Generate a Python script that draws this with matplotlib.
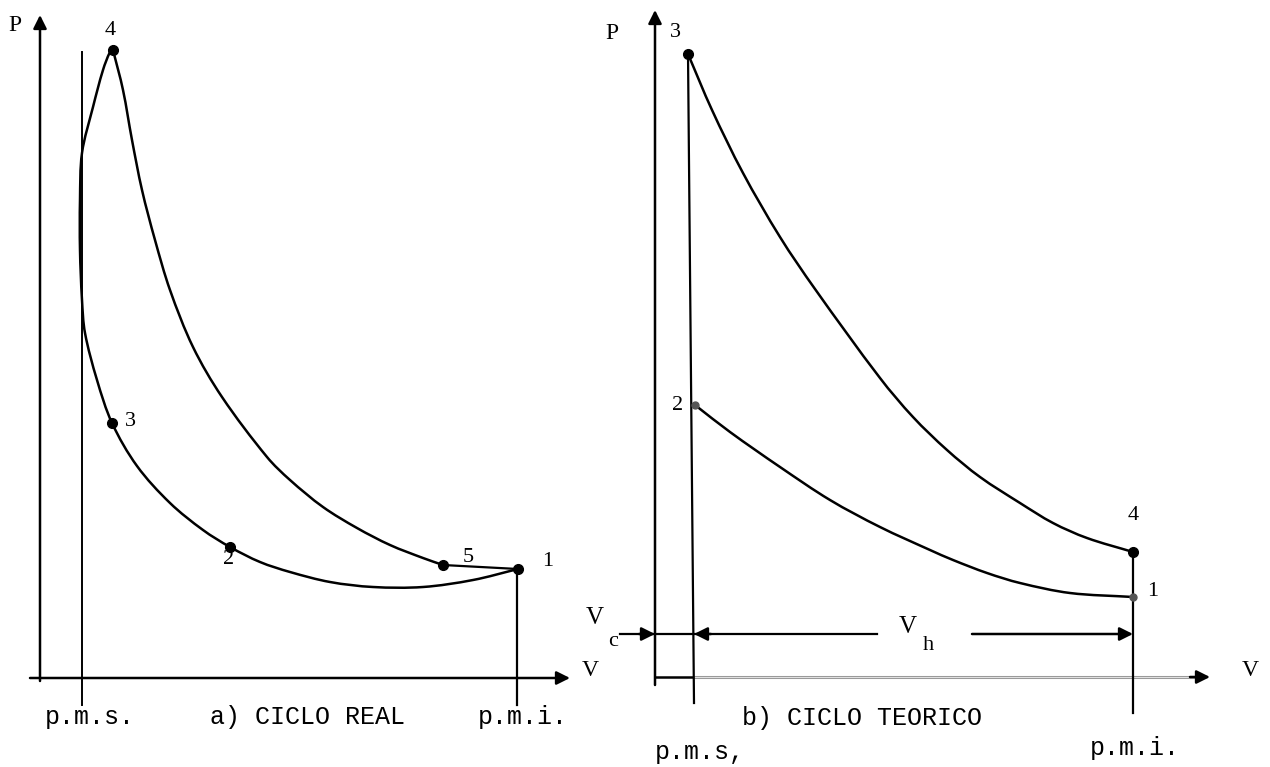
import matplotlib.pyplot as plt
from matplotlib.path import Path
from matplotlib.patches import PathPatch

# ---- a) ciclo real (V, p in arbitrary units)
# compression 1 -> 2 -> 3 -> p.m.s. -> combustion up to 4
v_real_comp = [47.8, 43.3, 38.3, 33.3, 29.0, 25.0, 22.0, 19.0, 16.3, 13.0, 9.7, 7.2,
               5.7, 4.5, 4.2, 4.0, 4.0, 4.2, 5.3, 6.3, 7.0, 7.3]
p_real_comp = [10.9, 9.8, 9.1, 9.1, 9.6, 10.6, 11.6, 13.1, 14.8, 17.5, 21.2, 25.5,
               29.8, 34.5, 37.8, 42.8, 47.8, 52.5, 57.1, 60.8, 62.6, 62.8]
# expansion 4 -> 5
v_real_exp = [7.3, 8.3, 9.2, 10.2, 11.5, 13.0, 15.3, 18.2, 22.7, 25.0, 28.3, 31.7, 35.0, 38.3, 40.3]
p_real_exp = [62.8, 58.8, 53.8, 48.8, 43.8, 38.8, 33.1, 28.1, 22.1, 19.8, 17.1, 15.0, 13.3, 12.0, 11.3]
pts_real_lbl = ['1', '2', '3', '4', '5']
pts_real_v = [47.8, 19.0, 7.2, 7.3, 40.3]
pts_real_p = [10.9, 13.1, 25.5, 62.8, 11.3]
pms_real, pmi_real = 4.2, 47.7

# ---- b) ciclo teorico
v_exp = [3.3, 5.7, 8.8, 12.5, 16.0, 22.5, 25.8, 29.2, 32.5, 36.5, 39.8, 43.2, 47.8]
p_exp = [62.3, 56.7, 50.4, 44.0, 38.8, 29.9, 26.0, 22.7, 20.0, 17.4, 15.4, 13.9, 12.5]
v_comp = [47.8, 41.5, 36.5, 33.2, 29.8, 27.5, 22.5, 17.5, 12.5, 7.5, 4.0]
p_comp = [8.0, 8.4, 9.4, 10.4, 11.7, 12.7, 15.0, 17.7, 21.0, 24.5, 27.2]
pms_teo, pmi_teo = 3.9, 47.8

mono = 'Liberation Mono'
serif = 'Liberation Serif'


def smooth(ax, xs, ys, lw=1.8):
    # smooth curve through the read points (chord-length hermite -> bezier)
    pts = list(zip(xs, ys))
    n = len(pts)
    d = [((pts[i + 1][0] - pts[i][0]) ** 2 + (pts[i + 1][1] - pts[i][1]) ** 2) ** 0.5
         for i in range(n - 1)]
    tang = []
    for i in range(n):
        if i == 0:
            a, b, s = pts[0], pts[1], d[0]
        elif i == n - 1:
            a, b, s = pts[-2], pts[-1], d[-1]
        else:
            a, b, s = pts[i - 1], pts[i + 1], d[i - 1] + d[i]
        tang.append(((b[0] - a[0]) / s, (b[1] - a[1]) / s))
    verts = [pts[0]]
    codes = [Path.MOVETO]
    for i in range(n - 1):
        p1, p2 = pts[i], pts[i + 1]
        c1 = (p1[0] + tang[i][0] * d[i] / 3, p1[1] + tang[i][1] * d[i] / 3)
        c2 = (p2[0] - tang[i + 1][0] * d[i] / 3, p2[1] - tang[i + 1][1] * d[i] / 3)
        verts += [c1, c2, p2]
        codes += [Path.CURVE4] * 3
    ax.add_patch(PathPatch(Path(verts, codes), fill=False, edgecolor='k', lw=lw,
                           capstyle='round', joinstyle='round'))


fig = plt.figure(figsize=(12.7, 7.67), dpi=100)
axa = fig.add_axes([0, 0, 1, 1])
axb = fig.add_axes([0, 0, 1, 1])
axb.patch.set_alpha(0)
axa.set_xlim(-4.0, 123.0); axa.set_ylim(-8.9, 67.8)
axb.set_xlim(-65.5, 61.5); axb.set_ylim(-9.0, 67.7)
for ax in (axa, axb):
    ax.axis('off')

arr = dict(arrowstyle='-|>', color='k', lw=1.8, mutation_scale=20, shrinkA=0, shrinkB=0)

# ---------- panel a
ax = axa
ax.annotate('', xy=(0, 66.3), xytext=(0, -0.3), arrowprops=arr)
ax.annotate('', xy=(53, 0), xytext=(-1, 0), arrowprops=arr)
ax.plot([pms_real, pms_real], [62.6, -2.7], color='k', lw=1.4)
ax.plot([pmi_real, pmi_real], [10.9, -2.7], color='k', lw=1.6)
smooth(ax, v_real_comp, p_real_comp)
smooth(ax, v_real_exp, p_real_exp)
ax.plot([v_real_exp[-1], v_real_comp[0]], [p_real_exp[-1], p_real_comp[0]], color='k', lw=1.6)
ax.plot(pts_real_v, pts_real_p, 'o', color='k', ms=7)
ax.plot([7.3], [62.8], marker=(4, 0, 0), color='k', ms=7)
lbl_off = {'1': (3.0, 0.7), '2': (-0.1, -1.3), '3': (1.8, 0.1), '4': (-0.3, 2.0), '5': (2.5, 0.8)}
for t, v, p in zip(pts_real_lbl, pts_real_v, pts_real_p):
    dv, dp = lbl_off[t]
    ax.text(v + dv, p + dp, t, family=serif, fontsize=16, ha='center', va='center')
ax.text(-2.5, 65.3, 'P', family=serif, fontsize=17, ha='center', va='center')
ax.text(54.2, 0.8, 'V', family=serif, fontsize=17, ha='left', va='center')
ax.text(5.0, -3.9, 'p.m.s.', family=mono, fontsize=18, ha='center', va='center')
ax.text(26.8, -3.9, 'a) CICLO REAL', family=mono, fontsize=18, ha='center', va='center')
ax.text(48.3, -3.9, 'p.m.i.', family=mono, fontsize=18, ha='center', va='center')

# ---------- panel b
ax = axb
ax.annotate('', xy=(0, 66.7), xytext=(0, -0.8), arrowprops=arr)
ax.plot([0, pms_teo], [0, 0], color='k', lw=1.8)
ax.plot([pms_teo, 54], [0, 0], color='#9a9a9a', lw=2.2)
ax.plot([pms_teo, 54], [0, 0], color='white', lw=0.5)
ax.annotate('', xy=(55.5, 0), xytext=(53.5, 0), arrowprops=arr)
ax.plot([v_exp[0], pms_teo], [p_exp[0], -2.6], color='k', lw=1.6)
ax.plot([pmi_teo, pmi_teo], [p_exp[-1], -3.6], color='k', lw=1.6)
smooth(ax, v_exp, p_exp)
smooth(ax, v_comp, p_comp)
ax.plot([v_exp[0], v_exp[-1]], [p_exp[0], p_exp[-1]], 'o', color='k', ms=7)
ax.plot([v_comp[0], v_comp[-1]], [p_comp[0], p_comp[-1]], 'o', color='#555555', ms=5)
ax.text(2.0, 64.5, '3', family=serif, fontsize=16, ha='center', va='center')
ax.text(2.3, 27.2, '2', family=serif, fontsize=16, ha='center', va='center')
ax.text(47.8, 16.2, '4', family=serif, fontsize=16, ha='center', va='center')
ax.text(49.8, 8.5, '1', family=serif, fontsize=16, ha='center', va='center')
ax.text(-4.3, 64.4, 'P', family=serif, fontsize=17, ha='center', va='center')
ax.text(59.5, 0.7, 'V', family=serif, fontsize=17, ha='center', va='center')

# cotas Vc / Vh
ax.plot([-3.5, 22.2], [4.3, 4.3], color='k', lw=1.6)
ax.annotate('', xy=(0, 4.3), xytext=(-1.6, 4.3), arrowprops=arr)
ax.annotate('', xy=(pms_teo, 4.3), xytext=(5.6, 4.3), arrowprops=arr)
ax.annotate('', xy=(pmi_teo, 4.3), xytext=(31.7, 4.3), arrowprops=arr)
ax.text(-6.0, 5.9, 'V', family=serif, fontsize=18, ha='center', va='center')
ax.text(-4.2, 3.5, 'c', family=serif, fontsize=16, ha='center', va='center')
ax.text(25.3, 5.0, 'V', family=serif, fontsize=18, ha='center', va='center')
ax.text(27.3, 3.2, 'h', family=serif, fontsize=16, ha='center', va='center')

ax.text(20.7, -4.1, 'b) CICLO TEORICO', family=mono, fontsize=18, ha='center', va='center')
ax.text(4.5, -7.5, 'p.m.s,', family=mono, fontsize=18, ha='center', va='center')
ax.text(48.0, -7.1, 'p.m.i.', family=mono, fontsize=18, ha='center', va='center')

fig.savefig('out.png', dpi=100)
